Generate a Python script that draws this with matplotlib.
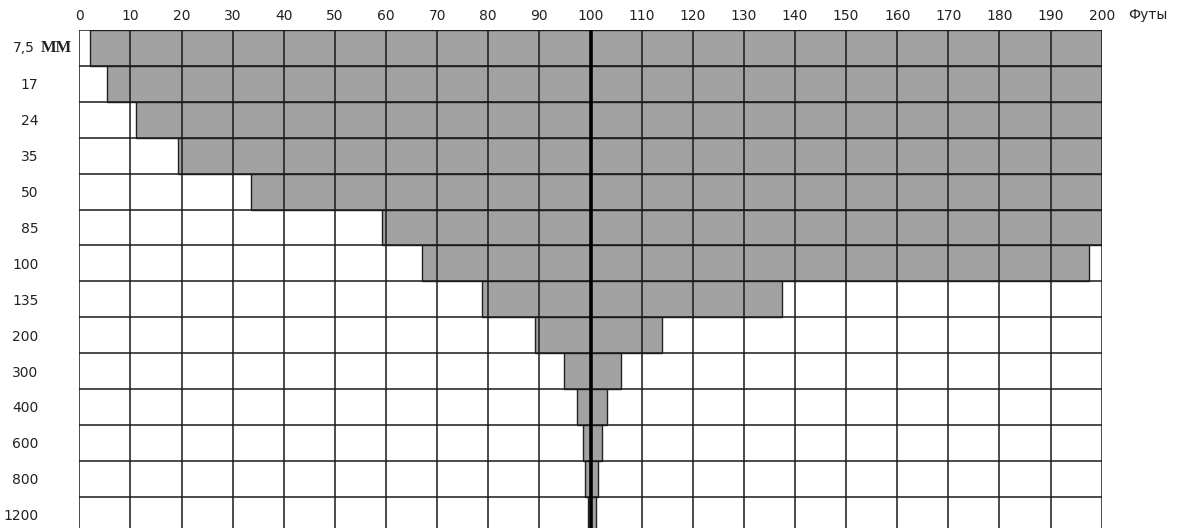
import matplotlib.pyplot as plt
import numpy as np

# focal length rows (top to bottom) and the distance span covered, in feet
lenses = ['7,5', '17', '24', '35', '50', '85', '100', '135', '200', '300', '400', '600', '800', '1200']
span_start = [2, 5.5, 11, 19.3, 33.5, 59.2, 67, 78.8, 89.2, 94.8, 97.4, 98.5, 99, 99.5]
span_end = [200, 200, 200, 200, 200, 200, 197.5, 137.4, 114, 105.9, 103.3, 102.2, 101.4, 101]
x_ticks = list(range(0, 201, 10))

fig = plt.figure(figsize=(11.81, 5.28), dpi=100)
W, H = 1181, 528
left, top = 79.3, 30
right = 1101.7
row_h = 35.9
n = len(lenses)
ax = fig.add_axes([left / W, (H - top - n * row_h) / H, (right - left) / W, n * row_h / H])

# gray bars
rows = np.arange(n)
ax.barh(rows + 0.5, np.array(span_end) - np.array(span_start), left=span_start,
        height=1.0, color='#a2a2a2', edgecolor='#222222', linewidth=1.0, zorder=1)

# grid
for x in x_ticks:
    ax.axvline(x, color='#1a1a1a', lw=1.1, zorder=2)
for y in range(n + 1):
    ax.axhline(y, color='#1a1a1a', lw=1.1, zorder=2)
ax.axvline(100, color='black', lw=2.6, zorder=3)

ax.set_xlim(0, 200)
ax.set_ylim(n, 0)
for s in ax.spines.values():
    s.set_visible(False)

lab = dict(fontsize=10, family='DejaVu Sans', color='#222222')

ax.xaxis.tick_top()
ax.set_xticks(x_ticks)
ax.set_xticklabels([str(v) for v in x_ticks], **lab)
ax.tick_params(axis='x', length=0, pad=5)

ax.set_yticks(rows + 0.5)
ax.set_yticklabels([''] + lenses[1:], **lab)
ax.tick_params(axis='y', length=0, pad=29.4)

# first row label with unit
y0 = 1 - (top + row_h / 2) / H
fig.text(35 / W, y0, lenses[0], ha='right', va='center', **lab)
fig.text(41 / W, y0, 'ММ', ha='left', va='center', fontsize=12, family='Liberation Serif',
         weight='bold', color='#222222')

# unit label
fig.text(1128 / W, 1 - 15 / H, 'Футы', ha='left', va='center', **lab)

fig.savefig('out.png', dpi=100)
